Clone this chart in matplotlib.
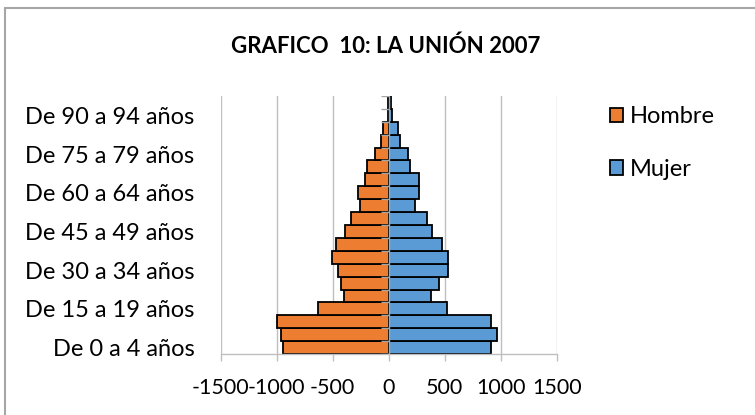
import matplotlib
matplotlib.use("Agg")
import matplotlib.pyplot as plt
from matplotlib.patches import Rectangle
import numpy as np

plt.rcParams['font.family'] = ['Lato', 'DejaVu Sans']

age_groups = ["De 0 a 4 años", "De 5 a 9 años", "De 10 a 14 años", "De 15 a 19 años",
              "De 20 a 24 años", "De 25 a 29 años", "De 30 a 34 años", "De 35 a 39 años",
              "De 40 a 44 años", "De 45 a 49 años", "De 50 a 54 años", "De 55 a 59 años",
              "De 60 a 64 años", "De 65 a 69 años", "De 70 a 74 años", "De 75 a 79 años",
              "De 80 a 84 años", "De 85 a 89 años", "De 90 a 94 años", "De 95 a 99 años"]
hombre = [940, 965, 995, 635, 400, 430, 452, 503, 468, 388, 334, 260, 278, 215, 198, 126, 70, 47, 10, 6]
mujer = [915, 965, 915, 522, 382, 452, 528, 528, 474, 388, 343, 239, 272, 269, 194, 171, 105, 84, 25, 20]
xticks = [-1500, -1000, -500, 0, 500, 1000, 1500]
title = "GRAFICO  10: LA UNIÓN 2007"

W, H = 755, 415
fig = plt.figure(figsize=(W / 100, H / 100), dpi=100)
ax = fig.add_axes([220.7 / W, 1 - 354 / H, (556.7 - 220.7) / W, (354 - 96) / H])

y = np.arange(len(age_groups))
grid_c = '#BFBFBF'
for xv in xticks:
    if xv != 0:
        ax.axvline(xv, color=grid_c, lw=1.0, zorder=0)

bh = ax.barh(y, -np.array(hombre), height=1.0, color='#ED7D31', edgecolor='black',
             linewidth=1.3, label='Hombre', zorder=2)
bm = ax.barh(y, mujer, height=1.0, color='#5B9BD5', edgecolor='black',
             linewidth=1.3, label='Mujer', zorder=2)

# central vertical axis with tick marks between categories
ax.axvline(0, color='#A6A6A6', lw=1.0, zorder=3)
for b in np.arange(-0.5, len(age_groups), 1.0):
    ax.plot([-70, 0], [b, b], color='#A6A6A6', lw=1.0, zorder=3, solid_capstyle='butt')

ax.set_xlim(-1500, 1500)
ax.set_ylim(-0.5, len(age_groups) - 0.5)

ax.set_xticks(xticks)
ax.set_xticklabels([str(v) for v in xticks])
ax.set_yticks(y[::3])
ax.set_yticklabels(age_groups[::3])

for s in ['top', 'right', 'left']:
    ax.spines[s].set_visible(False)
ax.spines['bottom'].set_color(grid_c)
ax.spines['bottom'].set_linewidth(1.0)
ax.tick_params(axis='x', length=5, color=grid_c, width=1.0, pad=12, labelsize=15.5)
ax.tick_params(axis='y', length=0, pad=19, labelsize=17)

fig.text(386 / W, 1 - 46 / H, title, ha='center', va='center', fontsize=16, fontweight='bold')

fig.legend(handles=[bh, bm], loc='upper left', bbox_to_anchor=(610 / W, 1 - 106 / H),
           frameon=False, fontsize=17, handlelength=0.55, handleheight=0.55,
           handletextpad=0.3, labelspacing=1.35, borderpad=0, borderaxespad=0)

fig.patches.append(Rectangle((5 / W, -0.1), 1.2, 1.1 - 8 / H, transform=fig.transFigure,
                             fill=False, edgecolor='#A6A6A6', linewidth=1.5, figure=fig))

fig.savefig("out.png", dpi=100)
